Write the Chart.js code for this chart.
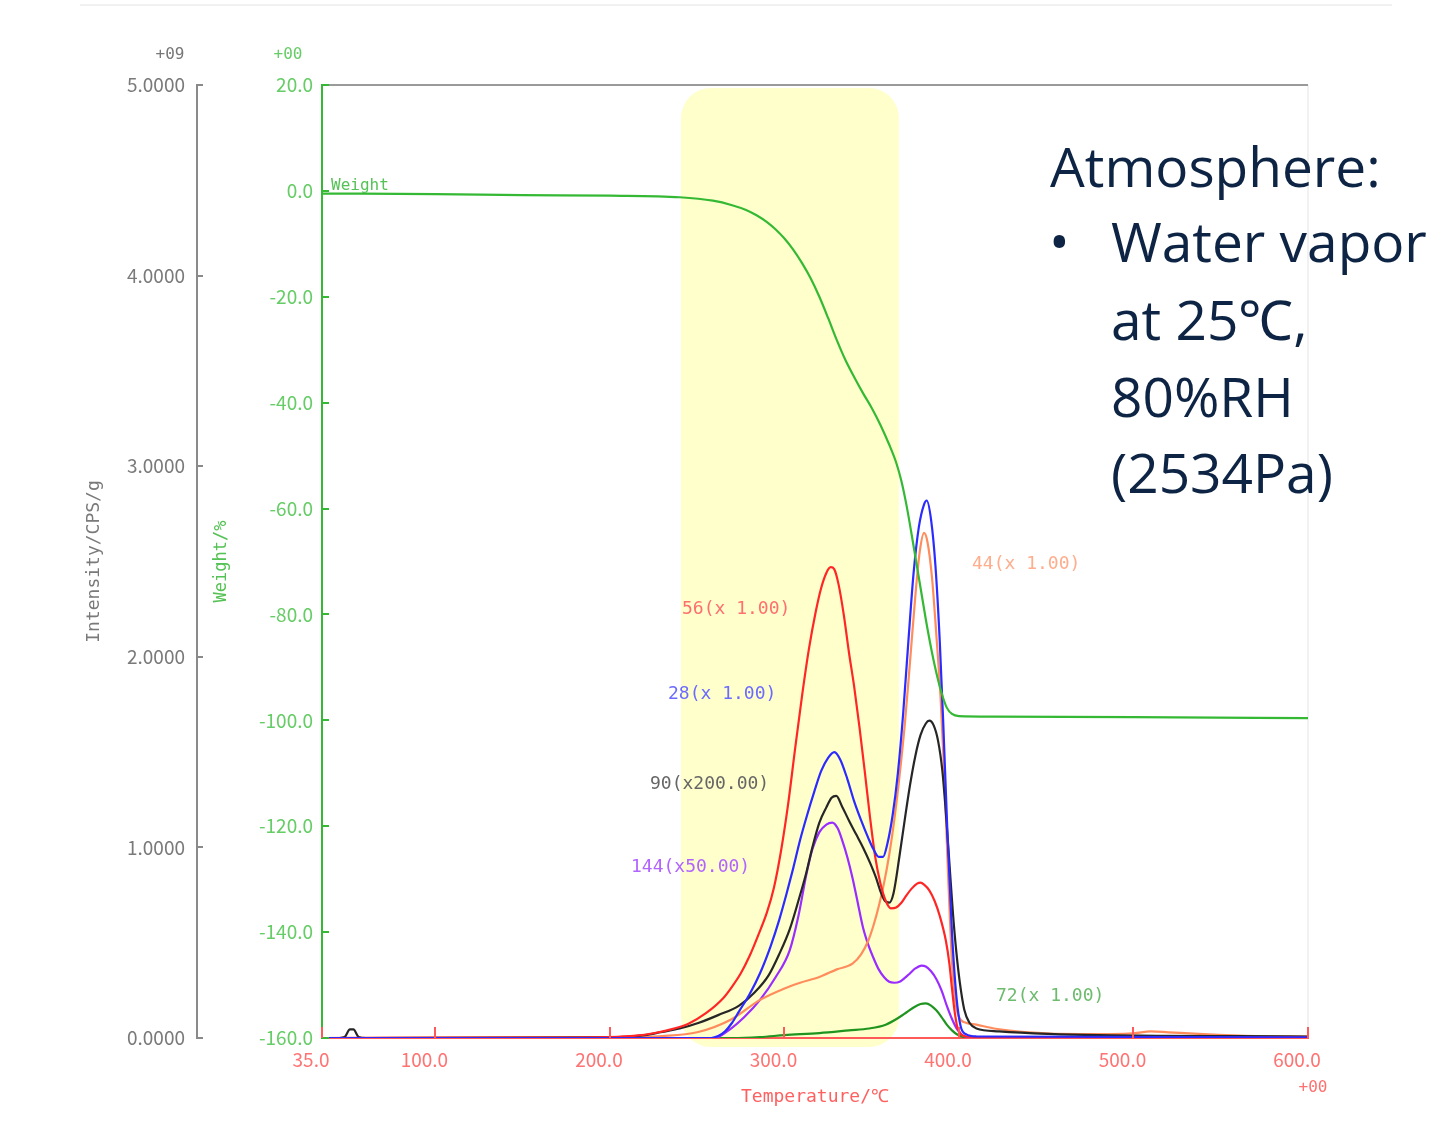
<!DOCTYPE html>
<html><head><meta charset="utf-8">
<script src="https://cdn.jsdelivr.net/npm/chart.js@4.4.1/dist/chart.umd.min.js"></script>
<style>html,body{margin:0;padding:0;background:#fff;}</style>
</head><body>
<canvas id="c" width="1433" height="1128" style="display:block"></canvas>
<script>
// ---------- tick labels ----------
const xTicks = [35, 100, 200, 300, 400, 500, 600];
const intensityTicks = [0, 1, 2, 3, 4, 5];
const weightTicks = [-160, -140, -120, -100, -80, -60, -40, -20, 0, 20];
const highlightRange = [240.7, 365.6]; // temperature span of yellow band

// ---------- m/z 56 (x 1.00) ----------
const m56T = [35,150,200,215,225,235,245,255,265,270,275,280,285,290,294,298,302,306,310,314,318,321,324,326.5,328.5,331,334,337,340,343,346,349,352,355,358,361,364,367,370,373,376,378,380,383,386,389,392.5,394.5,396,397.5,399,401,404,420,600];
const m56I = [0,0.002,0.005,0.012,0.025,0.045,0.075,0.13,0.21,0.27,0.34,0.43,0.54,0.66,0.79,0.98,1.22,1.51,1.79,2.04,2.24,2.36,2.44,2.47,2.46,2.38,2.22,2.02,1.84,1.63,1.40,1.16,0.95,0.81,0.72,0.68,0.685,0.71,0.75,0.785,0.81,0.815,0.805,0.775,0.72,0.64,0.51,0.39,0.26,0.14,0.06,0.02,0.008,0.005,0.002];

// ---------- m/z 28 (x 1.00) ----------
const m28T = [35,258,262,266,270,274,280,286,292,297,301,305,309,313,317,321,325,328.6,332,336,340,344,348,351,354,356.5,359,362,365,368,371,374,377,380,381.5,384,386.5,389,391,393.5,396,398.5,401,404,410,600];
const m28I = [0,0,0.01,0.035,0.08,0.14,0.23,0.34,0.48,0.62,0.75,0.89,1.04,1.17,1.29,1.40,1.47,1.50,1.46,1.36,1.24,1.14,1.05,0.99,0.95,0.95,1.02,1.17,1.39,1.70,2.08,2.44,2.68,2.80,2.82,2.72,2.48,2.08,1.65,1.05,0.55,0.22,0.06,0.02,0.008,0.003];

// ---------- m/z 44 (x 1.00) ----------
const m44T = [35,200,230,250,270,286,300,309,320,330,339,344,348,351,354,357,360,363,366,369,372,375,377.5,380,382,384.5,387,389.5,391.5,393.5,395.5,397.5,400,404,410,420,440,470,500,510,520,540,570,600];
const m44I = [0,0.003,0.01,0.03,0.1,0.2,0.26,0.29,0.32,0.36,0.39,0.44,0.51,0.59,0.69,0.81,0.96,1.15,1.38,1.65,1.98,2.32,2.55,2.65,2.60,2.42,2.12,1.78,1.40,0.92,0.48,0.22,0.11,0.08,0.07,0.05,0.03,0.02,0.025,0.035,0.03,0.02,0.01,0.008];

// ---------- m/z 90 (x200.00) ----------
const m90T = [35,45,48,51,53,56,60,200,220,229,240,251,262,274,283,291,297,303,308,312.6,316,320,324,327,329.7,333,337,341,345,349,352.5,355,357.5,360,362.5,366,369,372,375,378,381,383,385.5,388,390.5,392.5,394.5,396.5,398.5,400.5,403,406,410,423,451,480,600];
const m90I = [0,0,0.005,0.045,0.045,0.005,0,0.003,0.015,0.03,0.05,0.08,0.12,0.17,0.24,0.33,0.44,0.57,0.72,0.87,1.0,1.13,1.21,1.26,1.27,1.215,1.14,1.07,1.0,0.92,0.84,0.77,0.72,0.71,0.76,0.96,1.15,1.33,1.48,1.59,1.65,1.665,1.64,1.56,1.40,1.18,0.92,0.66,0.45,0.29,0.15,0.08,0.05,0.035,0.022,0.015,0.008];

// ---------- m/z 144 (x50.00) ----------
const m144T = [35,260,268,277,286,295,303,308,312.6,316,320,324,327.4,330.5,333,336,339,342,345,348,351,354,357,360,363,366,369,372,375,378.5,381,384,387,390,393,396,399,402,406,600];
const m144I = [0,0,0.04,0.11,0.2,0.32,0.46,0.64,0.86,0.99,1.08,1.12,1.13,1.10,1.04,0.95,0.84,0.71,0.58,0.49,0.42,0.36,0.32,0.295,0.29,0.295,0.315,0.34,0.365,0.38,0.375,0.35,0.31,0.25,0.17,0.10,0.045,0.015,0.004,0.002];

// ---------- m/z 72 (x 1.00) ----------
const m72T = [35,270,286,300,320,337,348.6,358,366,370,374,378,381,384,387,390,393,396,399,403,600];
const m72I = [0,0,0.005,0.015,0.026,0.04,0.05,0.07,0.11,0.135,0.16,0.178,0.182,0.17,0.145,0.11,0.07,0.04,0.018,0.005,0];

// ---------- Weight / % ----------
const weightT = [35,100,150,200,240,259,270,278,284,290,295,300,305,310,315,320,325,330,335,340,345,350,355,360,364,367,370,373.7,378,382,386,390,393,396,400,420,500,600];
const weightW = [-0.5,-0.6,-0.8,-0.9,-1.2,-1.85,-2.7,-3.6,-4.6,-5.9,-7.3,-9.0,-11.1,-13.6,-16.5,-20.0,-24.0,-28.2,-32.0,-35.2,-38.2,-41.0,-44.2,-47.9,-51.3,-54.8,-59.5,-66.5,-75.0,-82.8,-89.5,-94.8,-97.6,-98.8,-99.2,-99.3,-99.4,-99.6];

// ---------- labels ----------
const seriesLabels = ['56(x 1.00)', '28(x 1.00)', '90(x200.00)', '144(x50.00)', '44(x 1.00)', '72(x 1.00)'];
const noteLines = ['Atmosphere:', 'Water vapor', 'at 25\u2103,', '80%RH', '(2534Pa)'];

const pts = (T, V) => T.map((t, i) => ({x: t, y: V[i]}));
const tickFont = {family: "'Liberation Sans Narrow', 'Noto Sans CJK JP', sans-serif", size: 19};
const monoFont = "'DejaVu Sans Mono', 'Liberation Mono', monospace";

function ds(label, T, V, color, axis, w) {
  return {label, data: pts(T, V), borderColor: color, backgroundColor: color, borderWidth: w || 2.2,
    pointRadius: 0, cubicInterpolationMode: 'monotone', yAxisID: axis, fill: false};
}

const datasets = [
  ds('Weight', weightT, weightW, '#35b935', 'yW', 2.2),
  ds('28', m28T, m28I, '#2b2bff', 'yI'),
  ds('56', m56T, m56I, '#ff2626', 'yI'),
  ds('90', m90T, m90I, '#262626', 'yI'),
  ds('44', m44T, m44I, '#ff8c5c', 'yI'),
  ds('144', m144T, m144I, '#9a2cff', 'yI'),
  ds('72', m72T, m72I, '#1f941f', 'yI')
];

const deco = {
  id: 'deco',
  beforeDraw(chart) {
    const ctx = chart.ctx, ca = chart.chartArea, xs = chart.scales.x;
    ctx.save();
    ctx.fillStyle = '#fff';
    ctx.fillRect(0, 0, chart.width, chart.height);
    ctx.strokeStyle = '#ececec'; ctx.lineWidth = 1.5;
    ctx.beginPath(); ctx.moveTo(80, 5); ctx.lineTo(1392, 5); ctx.stroke();
    const x1 = xs.getPixelForValue(highlightRange[0]);
    const x2 = xs.getPixelForValue(highlightRange[1]);
    ctx.fillStyle = '#ffffcc';
    ctx.beginPath();
    ctx.roundRect(x1, ca.top + 3, x2 - x1, ca.bottom - ca.top + 6, 30);
    ctx.fill();
    ctx.strokeStyle = '#ececec'; ctx.lineWidth = 1.5;
    ctx.beginPath(); ctx.moveTo(ca.right, ca.top); ctx.lineTo(ca.right, ca.bottom); ctx.stroke();
    ctx.restore();
  },
  afterDraw(chart) {
    const ctx = chart.ctx, ca = chart.chartArea;
    const xs = chart.scales.x, yI = chart.scales.yI, yW = chart.scales.yW;
    ctx.save();
    ctx.strokeStyle = '#9a9a9a'; ctx.lineWidth = 2;
    ctx.beginPath(); ctx.moveTo(ca.left, ca.top); ctx.lineTo(ca.right, ca.top); ctx.stroke();
    ctx.strokeStyle = '#8a8a8a'; ctx.lineWidth = 2;
    intensityTicks.forEach(v => {
      const y = Math.round(yI.getPixelForValue(v));
      ctx.beginPath(); ctx.moveTo(yI.right, y); ctx.lineTo(yI.right + 6, y); ctx.stroke();
    });
    ctx.strokeStyle = '#35b935';
    weightTicks.forEach(v => {
      const y = Math.round(yW.getPixelForValue(v));
      ctx.beginPath(); ctx.moveTo(yW.right, y); ctx.lineTo(yW.right + 7, y); ctx.stroke();
    });
    ctx.strokeStyle = '#ff5a5a';
    xTicks.forEach(v => {
      const x = Math.round(xs.getPixelForValue(v));
      ctx.beginPath(); ctx.moveTo(x, ca.bottom); ctx.lineTo(x, ca.bottom - 11); ctx.stroke();
    });
    ctx.font = "16px " + monoFont;
    ctx.textAlign = 'center'; ctx.textBaseline = 'middle';
    ctx.fillStyle = '#777'; ctx.fillText('+09', 170, 55);
    ctx.fillStyle = '#66cc66'; ctx.fillText('+00', 288, 55);
    ctx.fillStyle = '#ff7070'; ctx.fillText('+00', 1313, 1088);
    ctx.textAlign = 'left';
    ctx.font = "16px " + monoFont;
    ctx.fillStyle = '#55c255'; ctx.fillText('Weight', 331, 186);
    ctx.font = "18px " + monoFont;
    const lab = [
      [seriesLabels[0], 682, 609, '#ff6f6f'],
      [seriesLabels[1], 668, 694, '#6b6bff'],
      [seriesLabels[2], 650, 784, '#666666'],
      [seriesLabels[3], 631, 867, '#b264ff'],
      [seriesLabels[4], 972, 564, '#ffad8c'],
      [seriesLabels[5], 996, 996, '#6dbb6d']
    ];
    lab.forEach(([t, x, y, c]) => { ctx.fillStyle = c; ctx.fillText(t, x, y); });
    ctx.fillStyle = '#0e2444';
    ctx.textBaseline = 'alphabetic';
    ctx.font = "55px 'Open Sans', sans-serif";
    ctx.fillText(noteLines[0], 1050, 187);
    ctx.fillText('\u2022', 1049, 262);
    ctx.fillText(noteLines[1], 1111, 262);
    ctx.fillText(noteLines[2], 1111, 340);
    ctx.fillText(noteLines[3], 1111, 417);
    ctx.fillText(noteLines[4], 1111, 493);
    ctx.restore();
  }
};

new Chart(document.getElementById('c'), {
  type: 'line',
  data: {datasets},
  plugins: [deco],
  options: {
    responsive: false, animation: false, devicePixelRatio: 1,
    layout: {padding: {left: 0, right: 125, top: 85, bottom: 0}},
    plugins: {legend: {display: false}, tooltip: {enabled: false}},
    scales: {
      x: {
        type: 'linear', position: 'bottom', min: 35, max: 600,
        afterBuildTicks: s => { s.ticks = xTicks.map(v => ({value: v})); },
        afterFit: s => { s.height = 90; },
        grid: {display: false, drawTicks: false},
        border: {display: true, color: '#ff5a5a', width: 2},
        ticks: {color: '#ff7373', font: tickFont, padding: 10, labelOffset: -11, maxRotation: 0, autoSkip: false,
          callback: v => Number(v).toFixed(1)},
        title: {display: true, text: 'Temperature/\u2103', color: '#ff5f5f',
          font: {family: monoFont, size: 18}, padding: {top: 0, bottom: 20}}
      },
      yW: {
        type: 'linear', position: 'left', weight: 0, min: -160, max: 20,
        afterBuildTicks: s => { s.ticks = weightTicks.map(v => ({value: v})); },
        afterFit: s => { s.width = 125; },
        grid: {display: false, drawTicks: false},
        border: {display: true, color: '#35b935', width: 2},
        ticks: {color: '#66cc66', font: tickFont, padding: 9, callback: v => Number(v).toFixed(1)},
        title: {display: true, text: 'Weight/%', color: '#55c255',
          font: {family: monoFont, size: 17}, padding: {top: 14, bottom: 0}}
      },
      yI: {
        type: 'linear', position: 'left', weight: 1, min: 0, max: 5,
        afterBuildTicks: s => { s.ticks = intensityTicks.map(v => ({value: v})); },
        afterFit: s => { s.width = 197; },
        grid: {display: false, drawTicks: false},
        border: {display: true, color: '#8a8a8a', width: 2},
        ticks: {color: '#7a7a7a', font: tickFont, padding: 12, callback: v => Number(v).toFixed(4)},
        title: {display: true, text: 'Intensity/CPS/g', color: '#7a7a7a',
          font: {family: monoFont, size: 18}, padding: {top: 84, bottom: 0}}
      }
    }
  }
});
</script>
</body></html>
